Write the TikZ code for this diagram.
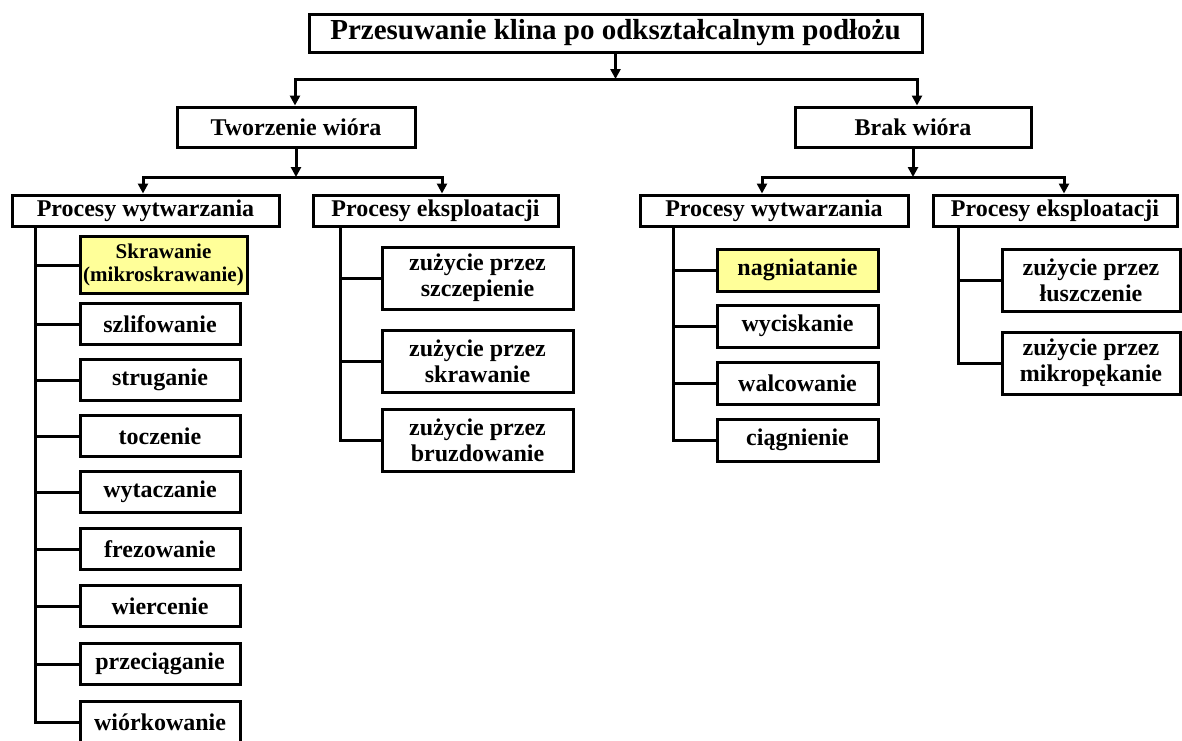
\documentclass[tikz,border=0pt]{standalone}
\usepackage{fontspec}
\setmainfont{Liberation Serif}
\usetikzlibrary{arrows.meta}
\definecolor{hl}{HTML}{FFFF99}
\begin{document}
\begin{tikzpicture}[x=1pt,y=-1pt,
  box/.style={draw,line width=3pt,fill=white,inner sep=0pt,align=center,
    font=\bfseries\fontsize{24}{26}\selectfont},
  hlbox/.style={box,fill=hl},
  leafL/.style={box,minimum width=160pt,minimum height=41pt},
  leafE/.style={box,minimum width=191pt,minimum height=62pt},
  leafW/.style={box,minimum width=161pt,minimum height=42pt},
  leafF/.style={box,minimum width=178pt,minimum height=62pt},
  link/.style={line width=3pt,line cap=rect},
  arr/.style={line width=3pt,-{Triangle[width=10pt,length=10pt]}},
]
\useasboundingbox (0,0) rectangle (1182,740);

% top levels
\node[box,minimum width=613pt,minimum height=38pt,font=\bfseries\fontsize{29}{31}\selectfont] (top) at (615.5,33) {Przesuwanie klina po odkształcalnym podłożu};
\node[box,minimum width=238pt,minimum height=40pt] (tw) at (296,127) {Tworzenie wióra};
\node[box,minimum width=236pt,minimum height=40pt] (brak) at (913,127) {Brak wióra};
\node[box,minimum width=267pt,minimum height=31pt] (pwL) at (145.5,210.5) {Procesy wytwarzania};
\node[box,minimum width=245pt,minimum height=31pt] (peL) at (435.5,210.5) {Procesy eksploatacji};
\node[box,minimum width=268pt,minimum height=31pt] (pwR) at (774,210.5) {Procesy wytwarzania};
\node[box,minimum width=244pt,minimum height=31pt] (peR) at (1055,210.5) {Procesy eksploatacji};

% left production leaves
\node[hlbox,minimum width=167pt,minimum height=57pt,font=\bfseries\fontsize{21}{23}\selectfont] (l1) at (163.5,265) {Skrawanie\\(mikroskrawanie)};
\node[leafL] (l2) at (160,324) {szlifowanie};
\node[leafL] (l3) at (160,380) {struganie};
\node[leafL] (l4) at (160,436) {toczenie};
\node[leafL] (l5) at (160,492) {wytaczanie};
\node[leafL] (l6) at (160,549) {frezowanie};
\node[leafL] (l7) at (160,606) {wiercenie};
\node[leafL] (l8) at (160,664) {przeciąganie};
\node[leafL] (l9) at (160,722) {wiórkowanie};

% left exploitation leaves
\node[leafE] (e1) at (477.5,278) {zużycie przez\\szczepienie};
\node[leafE] (e2) at (477.5,361) {zużycie przez\\skrawanie};
\node[leafE] (e3) at (477.5,440) {zużycie przez\\bruzdowanie};

% right production leaves
\node[leafW,fill=hl] (w1) at (797.5,270) {nagniatanie};
\node[leafW] (w2) at (797.5,326) {wyciskanie};
\node[leafW] (w3) at (797.5,383) {walcowanie};
\node[leafW] (w4) at (797.5,440) {ciągnienie};

% right exploitation leaves
\node[leafF] (f1) at (1091,280) {zużycie przez\\łuszczenie};
\node[leafF] (f2) at (1091,363) {zużycie przez\\mikropękanie};

% buses
\coordinate (b0L) at (295,79);
\coordinate (b0R) at (917,79);
\coordinate (b1L) at (143,177);
\coordinate (b1R) at (442,177);
\coordinate (b2L) at (762,177);
\coordinate (b2R) at (1064,177);

\draw[arr] (top.south) -- (top.south |- b0L);
\draw[link] (b0L) -- (b0R);
\draw[arr] (b0L) -- (b0L |- tw.north);
\draw[arr] (b0R) -- (b0R |- brak.north);

\draw[arr] (tw.south) -- (tw.south |- b1L);
\draw[link] (b1L) -- (b1R);
\draw[arr] (b1L) -- (b1L |- pwL.north);
\draw[arr] (b1R) -- (b1R |- peL.north);

\draw[arr] (brak.south) -- (brak.south |- b2L);
\draw[link] (b2L) -- (b2R);
\draw[arr] (b2L) -- (b2L |- pwR.north);
\draw[arr] (b2R) -- (b2R |- peR.north);

% columns
\coordinate (cL) at (35,0);
\coordinate (cE) at (340,0);
\coordinate (cW) at (673,0);
\coordinate (cF) at (958,0);

\draw[link] (cL |- pwL.south) |- (l9.west);
\foreach \n in {l1,l2,l3,l4,l5,l6,l7,l8} \draw[link] (cL |- \n.west) -- (\n.west);

\draw[link] (cE |- peL.south) |- (e3.west);
\foreach \n in {e1,e2} \draw[link] (cE |- \n.west) -- (\n.west);

\draw[link] (cW |- pwR.south) |- (w4.west);
\foreach \n in {w1,w2,w3} \draw[link] (cW |- \n.west) -- (\n.west);

\draw[link] (cF |- peR.south) |- (f2.west);
\draw[link] (cF |- f1.west) -- (f1.west);
\end{tikzpicture}
\end{document}
